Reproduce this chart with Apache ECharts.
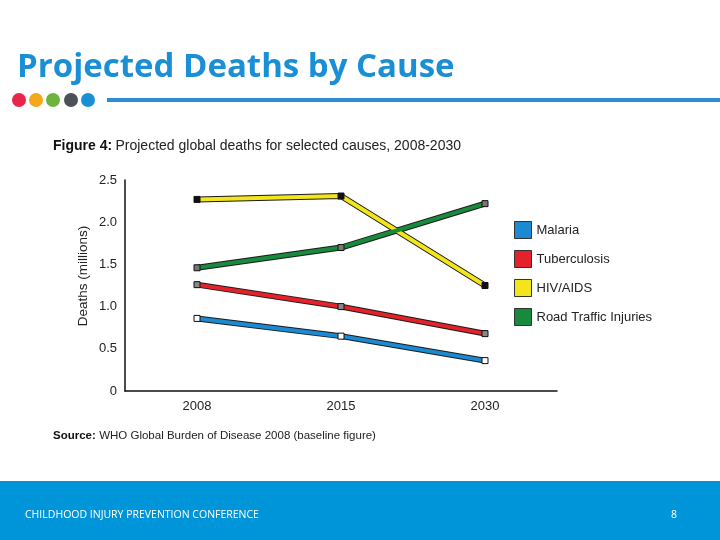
<!DOCTYPE html>
<html><head><meta charset="utf-8">
<script src="https://cdn.jsdelivr.net/npm/echarts@6/dist/echarts.min.js"></script>
<style>html,body{margin:0;padding:0;background:#fff}#c{width:720px;height:540px}</style>
</head><body><div id="c"></div>
<script>
const categories = ['2008', '2015', '2030'];
const seriesNames = ['Malaria', 'Tuberculosis', 'HIV/AIDS', 'Road Traffic Injuries'];
const malaria = [0.86, 0.65, 0.36];
const tuberculosis = [1.26, 1.00, 0.68];
const hivAids = [2.27, 2.31, 1.25];
const roadTraffic = [1.46, 1.70, 2.22];
const yTicks = ['0', '0.5', '1.0', '1.5', '2.0', '2.5'];

const values = [malaria, tuberculosis, hivAids, roadTraffic];
const lineColors = ['#1b8ad3', '#e3222a', '#f2e61a', '#178a3e'];
const markerColors = ['#ffffff', '#888888', '#111111', '#777777'];

const chart = echarts.init(document.getElementById('c'));
const series = [];
values.forEach((vals, i) => {
  series.push({
    type: 'line', name: '_o' + i, data: vals, z: 2, silent: true,
    symbol: 'none', lineStyle: { color: '#1a1a1a', width: 6 }, animation: false
  });
});
values.forEach((vals, i) => {
  series.push({
    type: 'line', name: seriesNames[i], z: 3, animation: false,
    data: vals.map(v => ({ value: v, itemStyle: { color: markerColors[i] } })),
    symbol: 'rect', symbolSize: 6, showSymbol: true,
    color: lineColors[i],
    lineStyle: { color: lineColors[i], width: 4 },
    itemStyle: { borderColor: '#111', borderWidth: 1 }
  });
});

chart.setOption({
  animation: false,
  grid: { left: 125, top: 180, width: 432, bottom: 149 },
  xAxis: {
    type: 'category', data: categories, boundaryGap: true,
    axisLine: { lineStyle: { color: '#111', width: 1.5 } },
    axisTick: { show: false },
    axisLabel: { color: '#222', fontSize: 13, fontFamily: 'Liberation Sans', margin: 9 }
  },
  yAxis: {
    type: 'value', min: 0, max: 2.5, interval: 0.5,
    axisLine: { show: true, lineStyle: { color: '#111', width: 1.5 } },
    axisTick: { show: false },
    splitLine: { show: false },
    axisLabel: {
      color: '#222', fontSize: 13, fontFamily: 'Liberation Sans', margin: 8,
      formatter: v => yTicks[Math.round(v / 0.5)]
    }
  },
  legend: {
    orient: 'vertical', left: 509, top: 216,
    data: seriesNames, icon: 'rect', itemWidth: 17, itemHeight: 17, itemGap: 11,
    itemStyle: { borderColor: '#333', borderWidth: 1 },
    textStyle: { color: '#222', fontSize: 13, fontFamily: 'Liberation Sans' },
    selectedMode: false
  },
  series: series,
  graphic: [
    { type: 'text', left: 17, top: 51, style: { text: 'Projected Deaths by Cause', fill: '#1a8fd6', font: 'bold 33px "Open Sans"' } },
    { type: 'circle', shape: { cx: 19, cy: 100, r: 7 }, style: { fill: '#e8254a' } },
    { type: 'circle', shape: { cx: 36, cy: 100, r: 7 }, style: { fill: '#f5a81c' } },
    { type: 'circle', shape: { cx: 53, cy: 100, r: 7 }, style: { fill: '#6cb33f' } },
    { type: 'circle', shape: { cx: 71, cy: 100, r: 7 }, style: { fill: '#4b5157' } },
    { type: 'circle', shape: { cx: 88, cy: 100, r: 7 }, style: { fill: '#1a8fd6' } },
    { type: 'rect', shape: { x: 107, y: 98, width: 613, height: 4 }, style: { fill: '#2a8fd0' } },
    { type: 'text', x: 83, y: 276, rotation: Math.PI / 2, style: { text: 'Deaths (millions)', fill: '#222', font: '13.5px "Liberation Sans"', textAlign: 'center', textVerticalAlign: 'middle' } },
    { type: 'text', left: 53, top: 139, style: { rich: { b: { font: 'bold 14px "Liberation Sans"', fill: '#111' }, n: { font: '14px "Liberation Sans"', fill: '#222' } }, text: '{b|Figure 4:} {n|Projected global deaths for selected causes, 2008-2030}' } },
    { type: 'text', left: 53, top: 430, style: { rich: { b: { font: 'bold 11.5px "Liberation Sans"', fill: '#111' }, n: { font: '11.5px "Liberation Sans"', fill: '#222' } }, text: '{b|Source:} {n|WHO Global Burden of Disease 2008 (baseline figure)}' } },
    { type: 'rect', shape: { x: 0, y: 481, width: 720, height: 59 }, style: { fill: '#0094d9' } },
    { type: 'text', left: 25, top: 510, style: { text: 'CHILDHOOD INJURY PREVENTION CONFERENCE', fill: '#fff', font: '10.5px "Open Sans"' } },
    { type: 'text', left: 671, top: 510, style: { text: '8', fill: '#fff', font: '10.5px "Open Sans"' } }
  ]
});
</script></body></html>
